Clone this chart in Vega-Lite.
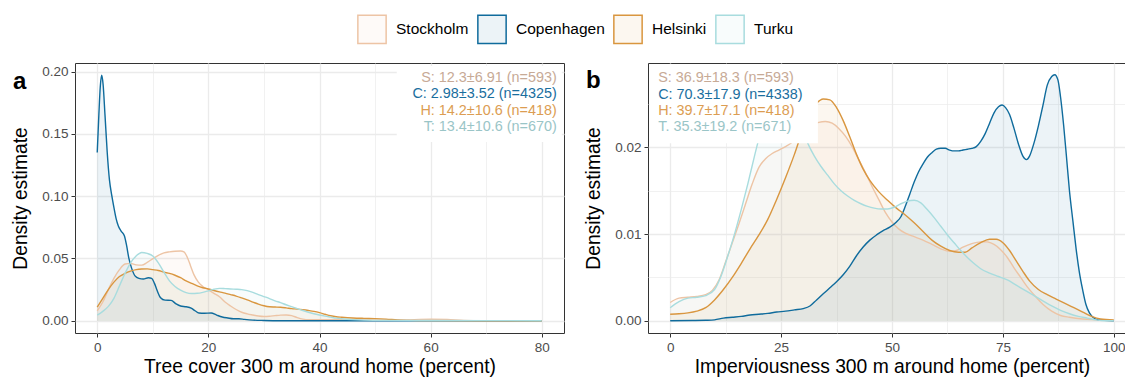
{
  "$schema": "https://vega.github.io/schema/vega-lite/v6.json",
  "autosize": {"type": "pad"},
  "padding": {"left": 11, "top": 14, "right": 0, "bottom": 0},
  "background": "white",
  "config": {
    "font": "Liberation Sans",
    "view": {"stroke": "#333333", "strokeWidth": 1},
    "axis": {"domain": false, "tickColor": "#333333", "tickSize": 4, "tickWidth": 1, "labelColor": "#4d4d4d", "labelFontSize": 13.5, "labelFont": "Liberation Sans", "labelPadding": 3, "titleFont": "Liberation Sans", "titleFontSize": 19.3, "titleFontWeight": "normal", "titleColor": "#000000", "gridColor": "#ebebeb", "labelOverlap": false},
    "axisX": {"titlePadding": 4},
    "axisY": {"titlePadding": 11},
    "legend": {"padding": 0}
  },
  "datasets": {
    "tree": [
      {"city":"Stockholm","x":0,"d":0.008},{"city":"Stockholm","x":1,"d":0.015},{"city":"Stockholm","x":2,"d":0.025},{"city":"Stockholm","x":3,"d":0.034},{"city":"Stockholm","x":4,"d":0.041},{"city":"Stockholm","x":5,"d":0.0455},{"city":"Stockholm","x":6,"d":0.046},{"city":"Stockholm","x":7,"d":0.0448},{"city":"Stockholm","x":8,"d":0.0446},{"city":"Stockholm","x":9,"d":0.0468},{"city":"Stockholm","x":10,"d":0.0498},{"city":"Stockholm","x":11,"d":0.0525},{"city":"Stockholm","x":12,"d":0.0545},{"city":"Stockholm","x":13,"d":0.0553},{"city":"Stockholm","x":14,"d":0.0558},{"city":"Stockholm","x":15,"d":0.056},{"city":"Stockholm","x":15.6,"d":0.0553},{"city":"Stockholm","x":16.2,"d":0.051},{"city":"Stockholm","x":16.8,"d":0.044},{"city":"Stockholm","x":17.4,"d":0.037},{"city":"Stockholm","x":18.2,"d":0.031},{"city":"Stockholm","x":19,"d":0.0275},{"city":"Stockholm","x":20,"d":0.0248},{"city":"Stockholm","x":21,"d":0.022},{"city":"Stockholm","x":22,"d":0.0192},{"city":"Stockholm","x":23,"d":0.015},{"city":"Stockholm","x":24,"d":0.0118},{"city":"Stockholm","x":25,"d":0.009},{"city":"Stockholm","x":26,"d":0.0068},{"city":"Stockholm","x":27,"d":0.0055},{"city":"Stockholm","x":28,"d":0.0046},{"city":"Stockholm","x":29,"d":0.0038},{"city":"Stockholm","x":30,"d":0.0034},{"city":"Stockholm","x":31,"d":0.0036},{"city":"Stockholm","x":32,"d":0.0041},{"city":"Stockholm","x":33,"d":0.0045},{"city":"Stockholm","x":34,"d":0.0046},{"city":"Stockholm","x":35,"d":0.0041},{"city":"Stockholm","x":36,"d":0.0025},{"city":"Stockholm","x":37,"d":0.0013},{"city":"Stockholm","x":38,"d":0.0008},{"city":"Stockholm","x":40,"d":0.0008},{"city":"Stockholm","x":42,"d":0.0009},{"city":"Stockholm","x":45,"d":0.0006},{"city":"Stockholm","x":50,"d":0.0004},{"city":"Stockholm","x":55,"d":0.0006},{"city":"Stockholm","x":60,"d":0.0012},{"city":"Stockholm","x":63,"d":0.001},{"city":"Stockholm","x":66,"d":0.0003},{"city":"Stockholm","x":70,"d":0.0001},{"city":"Stockholm","x":80,"d":0},
      {"city":"Copenhagen","x":0,"d":0.135},{"city":"Copenhagen","x":0.3,"d":0.166},{"city":"Copenhagen","x":0.55,"d":0.188},{"city":"Copenhagen","x":0.8,"d":0.197},{"city":"Copenhagen","x":1.05,"d":0.19},{"city":"Copenhagen","x":1.4,"d":0.165},{"city":"Copenhagen","x":1.8,"d":0.135},{"city":"Copenhagen","x":2.2,"d":0.113},{"city":"Copenhagen","x":2.6,"d":0.101},{"city":"Copenhagen","x":3.0,"d":0.091},{"city":"Copenhagen","x":3.4,"d":0.082},{"city":"Copenhagen","x":3.8,"d":0.076},{"city":"Copenhagen","x":4.3,"d":0.072},{"city":"Copenhagen","x":4.9,"d":0.068},{"city":"Copenhagen","x":5.3,"d":0.06},{"city":"Copenhagen","x":5.7,"d":0.05},{"city":"Copenhagen","x":6.2,"d":0.042},{"city":"Copenhagen","x":6.8,"d":0.036},{"city":"Copenhagen","x":7.5,"d":0.034},{"city":"Copenhagen","x":8.3,"d":0.0335},{"city":"Copenhagen","x":9.2,"d":0.0345},{"city":"Copenhagen","x":9.8,"d":0.034},{"city":"Copenhagen","x":10.3,"d":0.03},{"city":"Copenhagen","x":10.8,"d":0.024},{"city":"Copenhagen","x":11.4,"d":0.0185},{"city":"Copenhagen","x":12.2,"d":0.0165},{"city":"Copenhagen","x":13.3,"d":0.0163},{"city":"Copenhagen","x":14.2,"d":0.0135},{"city":"Copenhagen","x":15,"d":0.0118},{"city":"Copenhagen","x":16,"d":0.0112},{"city":"Copenhagen","x":16.9,"d":0.0102},{"city":"Copenhagen","x":17.6,"d":0.008},{"city":"Copenhagen","x":18.3,"d":0.0062},{"city":"Copenhagen","x":19.3,"d":0.006},{"city":"Copenhagen","x":20.5,"d":0.0062},{"city":"Copenhagen","x":21.5,"d":0.0045},{"city":"Copenhagen","x":22.5,"d":0.003},{"city":"Copenhagen","x":23.5,"d":0.0022},{"city":"Copenhagen","x":24.5,"d":0.0016},{"city":"Copenhagen","x":25.5,"d":0.0016},{"city":"Copenhagen","x":26.5,"d":0.0011},{"city":"Copenhagen","x":28,"d":0.0005},{"city":"Copenhagen","x":30,"d":0.0002},{"city":"Copenhagen","x":33,"d":0},{"city":"Copenhagen","x":40,"d":0},{"city":"Copenhagen","x":60,"d":0},{"city":"Copenhagen","x":80,"d":0},
      {"city":"Helsinki","x":0,"d":0.011},{"city":"Helsinki","x":1,"d":0.018},{"city":"Helsinki","x":2,"d":0.025},{"city":"Helsinki","x":3,"d":0.031},{"city":"Helsinki","x":4,"d":0.0355},{"city":"Helsinki","x":5,"d":0.038},{"city":"Helsinki","x":6,"d":0.0398},{"city":"Helsinki","x":7,"d":0.041},{"city":"Helsinki","x":8,"d":0.0415},{"city":"Helsinki","x":9,"d":0.0416},{"city":"Helsinki","x":10,"d":0.041},{"city":"Helsinki","x":11,"d":0.0403},{"city":"Helsinki","x":12,"d":0.039},{"city":"Helsinki","x":13,"d":0.038},{"city":"Helsinki","x":14,"d":0.0365},{"city":"Helsinki","x":15,"d":0.0345},{"city":"Helsinki","x":16,"d":0.032},{"city":"Helsinki","x":17,"d":0.03},{"city":"Helsinki","x":18,"d":0.028},{"city":"Helsinki","x":19,"d":0.0265},{"city":"Helsinki","x":20,"d":0.0255},{"city":"Helsinki","x":21,"d":0.0243},{"city":"Helsinki","x":22,"d":0.0232},{"city":"Helsinki","x":23,"d":0.0222},{"city":"Helsinki","x":24,"d":0.021},{"city":"Helsinki","x":25,"d":0.0198},{"city":"Helsinki","x":26,"d":0.0183},{"city":"Helsinki","x":27,"d":0.0167},{"city":"Helsinki","x":28,"d":0.015},{"city":"Helsinki","x":29,"d":0.0133},{"city":"Helsinki","x":30,"d":0.012},{"city":"Helsinki","x":31,"d":0.0112},{"city":"Helsinki","x":32,"d":0.011},{"city":"Helsinki","x":33,"d":0.0108},{"city":"Helsinki","x":34,"d":0.0103},{"city":"Helsinki","x":35,"d":0.0097},{"city":"Helsinki","x":36,"d":0.0093},{"city":"Helsinki","x":37,"d":0.0088},{"city":"Helsinki","x":38,"d":0.0082},{"city":"Helsinki","x":39,"d":0.0075},{"city":"Helsinki","x":40,"d":0.0065},{"city":"Helsinki","x":41,"d":0.0052},{"city":"Helsinki","x":42,"d":0.004},{"city":"Helsinki","x":43,"d":0.0032},{"city":"Helsinki","x":44,"d":0.0028},{"city":"Helsinki","x":46,"d":0.0022},{"city":"Helsinki","x":48,"d":0.0019},{"city":"Helsinki","x":50,"d":0.0017},{"city":"Helsinki","x":52,"d":0.0013},{"city":"Helsinki","x":54,"d":0.0007},{"city":"Helsinki","x":56,"d":0.0003},{"city":"Helsinki","x":60,"d":0.0001},{"city":"Helsinki","x":80,"d":0},
      {"city":"Turku","x":0,"d":0.0045},{"city":"Turku","x":1,"d":0.0075},{"city":"Turku","x":2,"d":0.0115},{"city":"Turku","x":3,"d":0.018},{"city":"Turku","x":4,"d":0.028},{"city":"Turku","x":5,"d":0.038},{"city":"Turku","x":6,"d":0.0465},{"city":"Turku","x":7,"d":0.052},{"city":"Turku","x":8,"d":0.0548},{"city":"Turku","x":9,"d":0.054},{"city":"Turku","x":10,"d":0.052},{"city":"Turku","x":11,"d":0.0465},{"city":"Turku","x":12,"d":0.039},{"city":"Turku","x":13,"d":0.032},{"city":"Turku","x":14,"d":0.0275},{"city":"Turku","x":15,"d":0.0245},{"city":"Turku","x":16,"d":0.0225},{"city":"Turku","x":17,"d":0.0218},{"city":"Turku","x":18,"d":0.022},{"city":"Turku","x":19,"d":0.0228},{"city":"Turku","x":20,"d":0.024},{"city":"Turku","x":21,"d":0.0253},{"city":"Turku","x":22,"d":0.026},{"city":"Turku","x":23,"d":0.0258},{"city":"Turku","x":24,"d":0.0255},{"city":"Turku","x":25,"d":0.0253},{"city":"Turku","x":26,"d":0.025},{"city":"Turku","x":27,"d":0.0242},{"city":"Turku","x":28,"d":0.0228},{"city":"Turku","x":29,"d":0.021},{"city":"Turku","x":30,"d":0.0194},{"city":"Turku","x":31,"d":0.0178},{"city":"Turku","x":32,"d":0.016},{"city":"Turku","x":33,"d":0.0145},{"city":"Turku","x":34,"d":0.0128},{"city":"Turku","x":35,"d":0.0113},{"city":"Turku","x":36,"d":0.0097},{"city":"Turku","x":37,"d":0.0082},{"city":"Turku","x":38,"d":0.0068},{"city":"Turku","x":39,"d":0.0056},{"city":"Turku","x":40,"d":0.0046},{"city":"Turku","x":41,"d":0.0037},{"city":"Turku","x":42,"d":0.0029},{"city":"Turku","x":43,"d":0.0021},{"city":"Turku","x":44,"d":0.0016},{"city":"Turku","x":46,"d":0.0009},{"city":"Turku","x":48,"d":0.0005},{"city":"Turku","x":52,"d":0.0003},{"city":"Turku","x":60,"d":0.0002},{"city":"Turku","x":70,"d":0.0001},{"city":"Turku","x":80,"d":0}
    ],
    "imperv": [
      {"city":"Stockholm","x":0,"d":0.0021},{"city":"Stockholm","x":2,"d":0.0026},{"city":"Stockholm","x":4,"d":0.0027},{"city":"Stockholm","x":6,"d":0.0028},{"city":"Stockholm","x":8,"d":0.003},{"city":"Stockholm","x":9.5,"d":0.0035},{"city":"Stockholm","x":11,"d":0.0047},{"city":"Stockholm","x":12.5,"d":0.0068},{"city":"Stockholm","x":14,"d":0.009},{"city":"Stockholm","x":15.5,"d":0.0112},{"city":"Stockholm","x":17,"d":0.0135},{"city":"Stockholm","x":18.5,"d":0.0158},{"city":"Stockholm","x":20,"d":0.0177},{"city":"Stockholm","x":21.5,"d":0.0187},{"city":"Stockholm","x":23,"d":0.0193},{"city":"Stockholm","x":24.5,"d":0.0197},{"city":"Stockholm","x":26,"d":0.0201},{"city":"Stockholm","x":27.5,"d":0.0206},{"city":"Stockholm","x":29,"d":0.0213},{"city":"Stockholm","x":30.5,"d":0.022},{"city":"Stockholm","x":32,"d":0.0226},{"city":"Stockholm","x":33.5,"d":0.0229},{"city":"Stockholm","x":35,"d":0.023},{"city":"Stockholm","x":36.5,"d":0.0228},{"city":"Stockholm","x":38,"d":0.0222},{"city":"Stockholm","x":39.5,"d":0.0213},{"city":"Stockholm","x":41,"d":0.0201},{"city":"Stockholm","x":42.5,"d":0.0186},{"city":"Stockholm","x":44,"d":0.0171},{"city":"Stockholm","x":45.5,"d":0.0155},{"city":"Stockholm","x":47,"d":0.014},{"city":"Stockholm","x":48.5,"d":0.0125},{"city":"Stockholm","x":50,"d":0.0114},{"city":"Stockholm","x":51.5,"d":0.0106},{"city":"Stockholm","x":53,"d":0.0101},{"city":"Stockholm","x":55,"d":0.0097},{"city":"Stockholm","x":57,"d":0.0093},{"city":"Stockholm","x":59,"d":0.0088},{"city":"Stockholm","x":61,"d":0.0083},{"city":"Stockholm","x":63,"d":0.008},{"city":"Stockholm","x":64.5,"d":0.0081},{"city":"Stockholm","x":66,"d":0.0085},{"city":"Stockholm","x":68,"d":0.0089},{"city":"Stockholm","x":70,"d":0.0091},{"city":"Stockholm","x":71.5,"d":0.0091},{"city":"Stockholm","x":73,"d":0.0088},{"city":"Stockholm","x":74.5,"d":0.0082},{"city":"Stockholm","x":76,"d":0.0073},{"city":"Stockholm","x":77.5,"d":0.0061},{"city":"Stockholm","x":79,"d":0.005},{"city":"Stockholm","x":80.5,"d":0.0039},{"city":"Stockholm","x":82,"d":0.003},{"city":"Stockholm","x":84,"d":0.0019},{"city":"Stockholm","x":86,"d":0.0011},{"city":"Stockholm","x":88,"d":0.0006},{"city":"Stockholm","x":90,"d":0.0004},{"city":"Stockholm","x":93,"d":0.0002},{"city":"Stockholm","x":96,"d":0.0001},{"city":"Stockholm","x":100,"d":0},
      {"city":"Copenhagen","x":0,"d":0},{"city":"Copenhagen","x":5,"d":0.00002},{"city":"Copenhagen","x":8,"d":0.00005},{"city":"Copenhagen","x":10,"d":0.0001},{"city":"Copenhagen","x":12,"d":0.0003},{"city":"Copenhagen","x":14,"d":0.0004},{"city":"Copenhagen","x":16,"d":0.0005},{"city":"Copenhagen","x":18,"d":0.00066},{"city":"Copenhagen","x":20,"d":0.00075},{"city":"Copenhagen","x":22,"d":0.00085},{"city":"Copenhagen","x":24,"d":0.001},{"city":"Copenhagen","x":26,"d":0.0011},{"city":"Copenhagen","x":28,"d":0.00125},{"city":"Copenhagen","x":30,"d":0.0014},{"city":"Copenhagen","x":31.5,"d":0.0017},{"city":"Copenhagen","x":33,"d":0.0024},{"city":"Copenhagen","x":34.5,"d":0.0031},{"city":"Copenhagen","x":36,"d":0.0038},{"city":"Copenhagen","x":37.5,"d":0.0045},{"city":"Copenhagen","x":39,"d":0.0053},{"city":"Copenhagen","x":40.5,"d":0.0063},{"city":"Copenhagen","x":42,"d":0.0075},{"city":"Copenhagen","x":43.5,"d":0.0085},{"city":"Copenhagen","x":45,"d":0.0093},{"city":"Copenhagen","x":46.5,"d":0.0099},{"city":"Copenhagen","x":48,"d":0.0104},{"city":"Copenhagen","x":49.5,"d":0.0108},{"city":"Copenhagen","x":51,"d":0.0114},{"city":"Copenhagen","x":52,"d":0.012},{"city":"Copenhagen","x":53,"d":0.0132},{"city":"Copenhagen","x":54,"d":0.0146},{"city":"Copenhagen","x":55,"d":0.016},{"city":"Copenhagen","x":56,"d":0.0172},{"city":"Copenhagen","x":57,"d":0.0181},{"city":"Copenhagen","x":58,"d":0.0189},{"city":"Copenhagen","x":59,"d":0.0194},{"city":"Copenhagen","x":60,"d":0.0198},{"city":"Copenhagen","x":61,"d":0.0199},{"city":"Copenhagen","x":62,"d":0.0199},{"city":"Copenhagen","x":63,"d":0.0197},{"city":"Copenhagen","x":64,"d":0.0196},{"city":"Copenhagen","x":65,"d":0.0196},{"city":"Copenhagen","x":66,"d":0.0197},{"city":"Copenhagen","x":67,"d":0.0198},{"city":"Copenhagen","x":68,"d":0.0199},{"city":"Copenhagen","x":69,"d":0.0201},{"city":"Copenhagen","x":70,"d":0.0207},{"city":"Copenhagen","x":71,"d":0.0216},{"city":"Copenhagen","x":72,"d":0.0228},{"city":"Copenhagen","x":73,"d":0.024},{"city":"Copenhagen","x":74,"d":0.0247},{"city":"Copenhagen","x":74.8,"d":0.0249},{"city":"Copenhagen","x":75.6,"d":0.0246},{"city":"Copenhagen","x":76.5,"d":0.0238},{"city":"Copenhagen","x":77.5,"d":0.0222},{"city":"Copenhagen","x":78.5,"d":0.0204},{"city":"Copenhagen","x":79.5,"d":0.019},{"city":"Copenhagen","x":80.3,"d":0.0186},{"city":"Copenhagen","x":81,"d":0.019},{"city":"Copenhagen","x":82,"d":0.0205},{"city":"Copenhagen","x":83,"d":0.0225},{"city":"Copenhagen","x":84,"d":0.0248},{"city":"Copenhagen","x":85,"d":0.0272},{"city":"Copenhagen","x":86,"d":0.0282},{"city":"Copenhagen","x":86.7,"d":0.0284},{"city":"Copenhagen","x":87.4,"d":0.0278},{"city":"Copenhagen","x":88,"d":0.0258},{"city":"Copenhagen","x":88.7,"d":0.0225},{"city":"Copenhagen","x":89.3,"d":0.0191},{"city":"Copenhagen","x":90,"d":0.015},{"city":"Copenhagen","x":90.8,"d":0.0114},{"city":"Copenhagen","x":91.5,"d":0.0083},{"city":"Copenhagen","x":92.2,"d":0.0057},{"city":"Copenhagen","x":93,"d":0.0035},{"city":"Copenhagen","x":93.7,"d":0.0019},{"city":"Copenhagen","x":94.5,"d":0.0009},{"city":"Copenhagen","x":95.3,"d":0.0004},{"city":"Copenhagen","x":96.5,"d":0.0001},{"city":"Copenhagen","x":100,"d":0},
      {"city":"Helsinki","x":0,"d":0.00075},{"city":"Helsinki","x":2,"d":0.0008},{"city":"Helsinki","x":4,"d":0.0009},{"city":"Helsinki","x":6,"d":0.0011},{"city":"Helsinki","x":8,"d":0.0015},{"city":"Helsinki","x":10,"d":0.0024},{"city":"Helsinki","x":12,"d":0.0036},{"city":"Helsinki","x":14,"d":0.005},{"city":"Helsinki","x":16,"d":0.0066},{"city":"Helsinki","x":18,"d":0.0083},{"city":"Helsinki","x":20,"d":0.0099},{"city":"Helsinki","x":22,"d":0.0117},{"city":"Helsinki","x":24,"d":0.014},{"city":"Helsinki","x":26,"d":0.0165},{"city":"Helsinki","x":28,"d":0.0192},{"city":"Helsinki","x":30,"d":0.0222},{"city":"Helsinki","x":31.5,"d":0.024},{"city":"Helsinki","x":33,"d":0.0251},{"city":"Helsinki","x":34.5,"d":0.0256},{"city":"Helsinki","x":36,"d":0.0255},{"city":"Helsinki","x":37.5,"d":0.0246},{"city":"Helsinki","x":39,"d":0.0231},{"city":"Helsinki","x":40.5,"d":0.0212},{"city":"Helsinki","x":42,"d":0.0192},{"city":"Helsinki","x":43.5,"d":0.0175},{"city":"Helsinki","x":45,"d":0.0162},{"city":"Helsinki","x":47,"d":0.0149},{"city":"Helsinki","x":49,"d":0.0139},{"city":"Helsinki","x":51,"d":0.013},{"city":"Helsinki","x":53,"d":0.0122},{"city":"Helsinki","x":55,"d":0.0113},{"city":"Helsinki","x":57,"d":0.0103},{"city":"Helsinki","x":59,"d":0.0093},{"city":"Helsinki","x":61,"d":0.0086},{"city":"Helsinki","x":63,"d":0.0081},{"city":"Helsinki","x":65,"d":0.0079},{"city":"Helsinki","x":66.5,"d":0.0079},{"city":"Helsinki","x":68,"d":0.0084},{"city":"Helsinki","x":70,"d":0.009},{"city":"Helsinki","x":72,"d":0.0094},{"city":"Helsinki","x":73.5,"d":0.0094},{"city":"Helsinki","x":75,"d":0.009},{"city":"Helsinki","x":76.5,"d":0.0081},{"city":"Helsinki","x":78,"d":0.0069},{"city":"Helsinki","x":79.5,"d":0.0057},{"city":"Helsinki","x":81,"d":0.0046},{"city":"Helsinki","x":83,"d":0.0036},{"city":"Helsinki","x":85,"d":0.003},{"city":"Helsinki","x":87,"d":0.0025},{"city":"Helsinki","x":89,"d":0.002},{"city":"Helsinki","x":91,"d":0.0015},{"city":"Helsinki","x":93,"d":0.001},{"city":"Helsinki","x":95,"d":0.0005},{"city":"Helsinki","x":97,"d":0.0002},{"city":"Helsinki","x":100,"d":0.0001},
      {"city":"Turku","x":0,"d":0.0015},{"city":"Turku","x":2,"d":0.0022},{"city":"Turku","x":4,"d":0.0026},{"city":"Turku","x":6,"d":0.0027},{"city":"Turku","x":8,"d":0.0029},{"city":"Turku","x":10,"d":0.0036},{"city":"Turku","x":11.5,"d":0.0052},{"city":"Turku","x":13,"d":0.0075},{"city":"Turku","x":14.5,"d":0.01},{"city":"Turku","x":16,"d":0.0128},{"city":"Turku","x":17.5,"d":0.0158},{"city":"Turku","x":19,"d":0.019},{"city":"Turku","x":20.5,"d":0.022},{"city":"Turku","x":22,"d":0.0245},{"city":"Turku","x":23.5,"d":0.026},{"city":"Turku","x":25,"d":0.0265},{"city":"Turku","x":26.5,"d":0.026},{"city":"Turku","x":28,"d":0.0245},{"city":"Turku","x":29.5,"d":0.0225},{"city":"Turku","x":31,"d":0.0205},{"city":"Turku","x":32.5,"d":0.019},{"city":"Turku","x":34,"d":0.0178},{"city":"Turku","x":35.5,"d":0.0168},{"city":"Turku","x":37,"d":0.0158},{"city":"Turku","x":38.5,"d":0.015},{"city":"Turku","x":40,"d":0.0144},{"city":"Turku","x":41.5,"d":0.0139},{"city":"Turku","x":43,"d":0.0135},{"city":"Turku","x":44.5,"d":0.0132},{"city":"Turku","x":46,"d":0.013},{"city":"Turku","x":47.5,"d":0.0129},{"city":"Turku","x":49,"d":0.0129},{"city":"Turku","x":50.5,"d":0.0131},{"city":"Turku","x":52,"d":0.0135},{"city":"Turku","x":53.5,"d":0.0138},{"city":"Turku","x":55,"d":0.0139},{"city":"Turku","x":56.5,"d":0.0136},{"city":"Turku","x":58,"d":0.0128},{"city":"Turku","x":59.5,"d":0.0119},{"city":"Turku","x":61,"d":0.0109},{"city":"Turku","x":62.5,"d":0.0099},{"city":"Turku","x":64,"d":0.009},{"city":"Turku","x":65.5,"d":0.0081},{"city":"Turku","x":67,"d":0.0073},{"city":"Turku","x":68.5,"d":0.0066},{"city":"Turku","x":70,"d":0.006},{"city":"Turku","x":72,"d":0.0055},{"city":"Turku","x":74,"d":0.0051},{"city":"Turku","x":76,"d":0.0047},{"city":"Turku","x":78,"d":0.0041},{"city":"Turku","x":80,"d":0.0035},{"city":"Turku","x":82,"d":0.0029},{"city":"Turku","x":84,"d":0.0023},{"city":"Turku","x":86,"d":0.0017},{"city":"Turku","x":88,"d":0.0012},{"city":"Turku","x":90,"d":0.0008},{"city":"Turku","x":92,"d":0.0005},{"city":"Turku","x":94,"d":0.0003},{"city":"Turku","x":96,"d":0.0001},{"city":"Turku","x":98,"d":0},{"city":"Turku","x":100,"d":0}
    ],
    "labels": [
      {"panel":"a","city":"Stockholm","label":"S: 12.3±6.91 (n=593)"},
      {"panel":"a","city":"Copenhagen","label":"C: 2.98±3.52 (n=4325)"},
      {"panel":"a","city":"Helsinki","label":"H: 14.2±10.6 (n=418)"},
      {"panel":"a","city":"Turku","label":"T: 13.4±10.6 (n=670)"},
      {"panel":"b","city":"Stockholm","label":"S: 36.9±18.3 (n=593)"},
      {"panel":"b","city":"Copenhagen","label":"C: 70.3±17.9 (n=4338)"},
      {"panel":"b","city":"Helsinki","label":"H: 39.7±17.1 (n=418)"},
      {"panel":"b","city":"Turku","label":"T. 35.3±19.2 (n=671)"},
      {"panel":"a","city":"tag","label":"a"},
      {"panel":"b","city":"tag","label":"b"}
    ]
  },
  "resolve": {"scale": {"color": "shared"}, "legend": {"color": "shared"}},
  "spacing": 19,
  "hconcat": [
    {
      "width": 489,
      "height": 270,
      "layer": [
        {
          "data": {"name": "tree"},
          "mark": {"type": "area", "fillOpacity": 0.08, "interpolate": "monotone"},
          "encoding": {
            "x": {"field": "x", "type": "quantitative", "title": "Tree cover 300 m around home (percent)", "scale": {"domain": [-4, 84], "nice": false, "zero": false},
              "axis": {"values": [0, 10, 20, 30, 40, 50, 60, 70, 80],
                "labelExpr": "datum.value % 20 == 0 ? datum.label : ''",
                "tickOpacity": {"condition": {"test": "datum.value % 20 != 0", "value": 0}, "value": 1},
                "gridWidth": {"condition": {"test": "datum.value % 20 != 0", "value": 0.7}, "value": 1.3}}},
            "y": {"field": "d", "type": "quantitative", "title": "Density estimate", "stack": null, "scale": {"domain": [-0.00985, 0.20685], "nice": false, "zero": false},
              "axis": {"values": [0, 0.025, 0.05, 0.075, 0.1, 0.125, 0.15, 0.175, 0.2],
                "labelExpr": "abs(datum.value*20 - round(datum.value*20)) < 0.001 ? format(datum.value, '.2f') : ''",
                "tickOpacity": {"condition": {"test": "abs(datum.value*20 - round(datum.value*20)) > 0.001", "value": 0}, "value": 1},
                "gridWidth": {"condition": {"test": "abs(datum.value*20 - round(datum.value*20)) > 0.001", "value": 0.7}, "value": 1.3}}},
            "color": {"field": "city", "type": "nominal",
              "scale": {"domain": ["Stockholm", "Copenhagen", "Helsinki", "Turku"], "range": ["#EDC4A5", "#0F6B9C", "#D9963F", "#A8DCDE"]},
              "legend": {"title": null, "orient": "none", "legendX": 282, "legendY": -49, "direction": "horizontal",
                "symbolType": "square", "symbolSize": 800, "symbolStrokeWidth": 1.5, "labelFontSize": 15.5, "labelFont": "Liberation Sans", "labelColor": "#000000",
                "columnPadding": 5, "labelOffset": 9,
                "encode": {"symbols": {"update": {"fill": {"scale": "color", "field": "value"}, "fillOpacity": {"value": 0.08}, "stroke": {"scale": "color", "field": "value"}, "strokeOpacity": {"value": 1}, "opacity": {"value": 1}}}}}}
          }
        },
        {
          "data": {"name": "tree"},
          "mark": {"type": "line", "strokeWidth": 1.4, "interpolate": "monotone"},
          "encoding": {
            "x": {"field": "x", "type": "quantitative", "title": "Tree cover 300 m around home (percent)"},
            "y": {"field": "d", "type": "quantitative", "title": "Density estimate"},
            "color": {"field": "city", "type": "nominal"}
          }
        },
        {
          "data": {"values": [{}]},
          "mark": {"type": "rect", "fill": "white", "opacity": 1},
          "encoding": {
            "x": {"datum": 53.9, "type": "quantitative", "title": "Tree cover 300 m around home (percent)"},
            "x2": {"datum": 83.6},
            "y": {"datum": 0.1435, "type": "quantitative", "title": "Density estimate"},
            "y2": {"datum": 0.2045}
          }
        },
        {
          "data": {"name": "labels"},
          "transform": [{"filter": "datum.panel == 'a' && datum.city == 'tag'"}],
          "mark": {"type": "text", "align": "left", "baseline": "alphabetic", "fontSize": 24, "fontWeight": "bold", "font": "Liberation Sans", "color": "#000000"},
          "encoding": {"x": {"datum": -15.16, "type": "quantitative", "title": "Tree cover 300 m around home (percent)"}, "y": {"datum": 0.18638, "type": "quantitative", "title": "Density estimate"}, "text": {"field": "label"}}
        },
        {
          "data": {"name": "labels"},
          "transform": [{"filter": "datum.panel == 'a' && datum.city == 'Stockholm'"}],
          "mark": {"type": "text", "align": "right", "baseline": "middle", "fontSize": 14.4, "font": "Liberation Sans", "color": "#c7aa96"},
          "encoding": {"x": {"datum": 82.7, "type": "quantitative", "title": "Tree cover 300 m around home (percent)"}, "y": {"datum": 0.195, "type": "quantitative", "title": "Density estimate"}, "text": {"field": "label"}}
        },
        {
          "data": {"name": "labels"},
          "transform": [{"filter": "datum.panel == 'a' && datum.city == 'Copenhagen'"}],
          "mark": {"type": "text", "align": "right", "baseline": "middle", "fontSize": 14.4, "font": "Liberation Sans", "color": "#1a6e9e"},
          "encoding": {"x": {"datum": 82.7, "type": "quantitative", "title": "Tree cover 300 m around home (percent)"}, "y": {"datum": 0.1818, "type": "quantitative", "title": "Density estimate"}, "text": {"field": "label"}}
        },
        {
          "data": {"name": "labels"},
          "transform": [{"filter": "datum.panel == 'a' && datum.city == 'Helsinki'"}],
          "mark": {"type": "text", "align": "right", "baseline": "middle", "fontSize": 14.4, "font": "Liberation Sans", "color": "#dc9d52"},
          "encoding": {"x": {"datum": 82.7, "type": "quantitative", "title": "Tree cover 300 m around home (percent)"}, "y": {"datum": 0.1685, "type": "quantitative", "title": "Density estimate"}, "text": {"field": "label"}}
        },
        {
          "data": {"name": "labels"},
          "transform": [{"filter": "datum.panel == 'a' && datum.city == 'Turku'"}],
          "mark": {"type": "text", "align": "right", "baseline": "middle", "fontSize": 14.4, "font": "Liberation Sans", "color": "#9ac5c7"},
          "encoding": {"x": {"datum": 82.7, "type": "quantitative", "title": "Tree cover 300 m around home (percent)"}, "y": {"datum": 0.1557, "type": "quantitative", "title": "Density estimate"}, "text": {"field": "label"}}
        }
      ]
    },
    {
      "width": 488,
      "height": 270,
      "layer": [
        {
          "data": {"name": "imperv"},
          "mark": {"type": "area", "fillOpacity": 0.08, "interpolate": "monotone"},
          "encoding": {
            "x": {"field": "x", "type": "quantitative", "title": "Imperviousness 300 m around home (percent)", "scale": {"domain": [-5, 105], "nice": false, "zero": false},
              "axis": {"values": [0, 12.5, 25, 37.5, 50, 62.5, 75, 87.5, 100],
                "labelExpr": "datum.value % 25 == 0 ? datum.label : ''",
                "tickOpacity": {"condition": {"test": "datum.value % 25 != 0", "value": 0}, "value": 1},
                "gridWidth": {"condition": {"test": "datum.value % 25 != 0", "value": 0.7}, "value": 1.3}}},
            "y": {"field": "d", "type": "quantitative", "title": "Density estimate", "stack": null, "scale": {"domain": [-0.00142, 0.02975], "nice": false, "zero": false},
              "axis": {"values": [0, 0.005, 0.01, 0.015, 0.02, 0.025],
                "labelExpr": "abs(datum.value*100 - round(datum.value*100)) < 0.001 ? format(datum.value, '.2f') : ''",
                "tickOpacity": {"condition": {"test": "abs(datum.value*100 - round(datum.value*100)) > 0.001", "value": 0}, "value": 1},
                "gridWidth": {"condition": {"test": "abs(datum.value*100 - round(datum.value*100)) > 0.001", "value": 0.7}, "value": 1.3}}},
            "color": {"field": "city", "type": "nominal",
              "scale": {"domain": ["Stockholm", "Copenhagen", "Helsinki", "Turku"], "range": ["#EDC4A5", "#0F6B9C", "#D9963F", "#A8DCDE"]}}
          }
        },
        {
          "data": {"name": "imperv"},
          "mark": {"type": "line", "strokeWidth": 1.4, "interpolate": "monotone"},
          "encoding": {
            "x": {"field": "x", "type": "quantitative", "title": "Imperviousness 300 m around home (percent)"},
            "y": {"field": "d", "type": "quantitative", "title": "Density estimate"},
            "color": {"field": "city", "type": "nominal"}
          }
        },
        {
          "data": {"values": [{}]},
          "mark": {"type": "rect", "fill": "white", "opacity": 1},
          "encoding": {
            "x": {"datum": -4.6, "type": "quantitative", "title": "Imperviousness 300 m around home (percent)"},
            "x2": {"datum": 33.3},
            "y": {"datum": 0.0205, "type": "quantitative", "title": "Density estimate"},
            "y2": {"datum": 0.0296}
          }
        },
        {
          "data": {"name": "labels"},
          "transform": [{"filter": "datum.panel == 'b' && datum.city == 'tag'"}],
          "mark": {"type": "text", "align": "left", "baseline": "alphabetic", "fontSize": 24, "fontWeight": "bold", "font": "Liberation Sans", "color": "#000000"},
          "encoding": {"x": {"datum": -18.98, "type": "quantitative", "title": "Imperviousness 300 m around home (percent)"}, "y": {"datum": 0.02681, "type": "quantitative", "title": "Density estimate"}, "text": {"field": "label"}}
        },
        {
          "data": {"name": "labels"},
          "transform": [{"filter": "datum.panel == 'b' && datum.city == 'Stockholm'"}],
          "mark": {"type": "text", "align": "left", "baseline": "middle", "fontSize": 14.4, "font": "Liberation Sans", "color": "#c7aa96"},
          "encoding": {"x": {"datum": -2.7, "type": "quantitative", "title": "Imperviousness 300 m around home (percent)"}, "y": {"datum": 0.02805, "type": "quantitative", "title": "Density estimate"}, "text": {"field": "label"}}
        },
        {
          "data": {"name": "labels"},
          "transform": [{"filter": "datum.panel == 'b' && datum.city == 'Copenhagen'"}],
          "mark": {"type": "text", "align": "left", "baseline": "middle", "fontSize": 14.4, "font": "Liberation Sans", "color": "#1a6e9e"},
          "encoding": {"x": {"datum": -2.7, "type": "quantitative", "title": "Imperviousness 300 m around home (percent)"}, "y": {"datum": 0.02609, "type": "quantitative", "title": "Density estimate"}, "text": {"field": "label"}}
        },
        {
          "data": {"name": "labels"},
          "transform": [{"filter": "datum.panel == 'b' && datum.city == 'Helsinki'"}],
          "mark": {"type": "text", "align": "left", "baseline": "middle", "fontSize": 14.4, "font": "Liberation Sans", "color": "#dc9d52"},
          "encoding": {"x": {"datum": -2.7, "type": "quantitative", "title": "Imperviousness 300 m around home (percent)"}, "y": {"datum": 0.02425, "type": "quantitative", "title": "Density estimate"}, "text": {"field": "label"}}
        },
        {
          "data": {"name": "labels"},
          "transform": [{"filter": "datum.panel == 'b' && datum.city == 'Turku'"}],
          "mark": {"type": "text", "align": "left", "baseline": "middle", "fontSize": 14.4, "font": "Liberation Sans", "color": "#9ac5c7"},
          "encoding": {"x": {"datum": -2.7, "type": "quantitative", "title": "Imperviousness 300 m around home (percent)"}, "y": {"datum": 0.02241, "type": "quantitative", "title": "Density estimate"}, "text": {"field": "label"}}
        }
      ]
    }
  ]
}
